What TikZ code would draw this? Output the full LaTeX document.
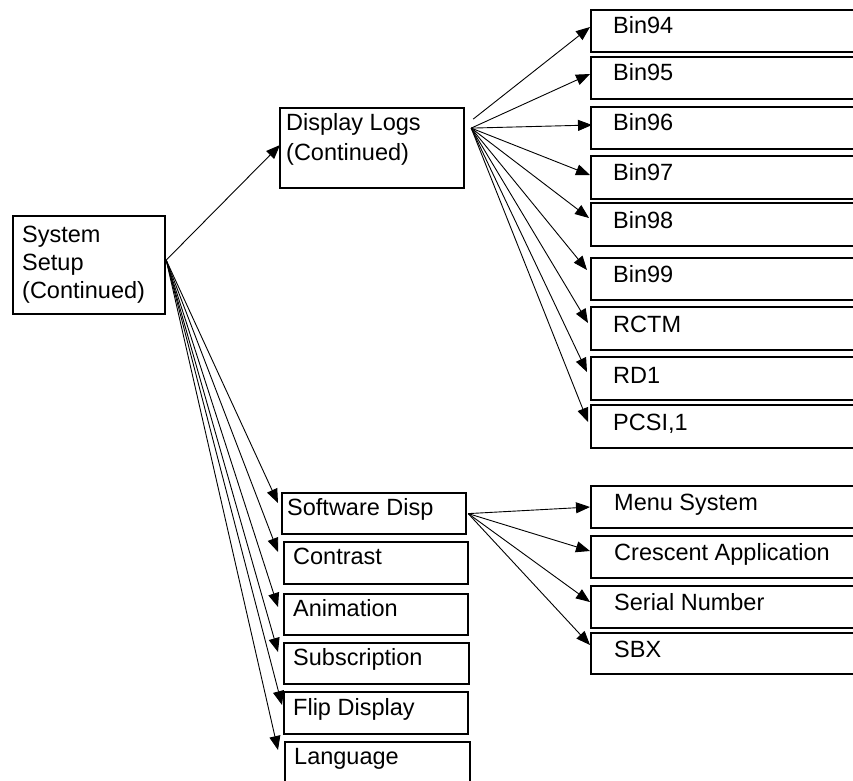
\documentclass[tikz,border=0pt]{standalone}
\usepackage{fontspec}
\setmainfont{Liberation Sans}
\usetikzlibrary{arrows.meta}
\begin{document}
\begin{tikzpicture}[x=1pt,y=-1pt,
  box/.style={draw, line width=2.2pt, anchor=north west, inner sep=0pt},
  lbl/.style={anchor=base west, inner sep=0pt, font=\fontsize{23.5}{28}\selectfont},
  arr/.style={-{Triangle[length=14pt,width=11pt]}, line width=0.9pt}]
\useasboundingbox (0,0) rectangle (853,780);
\clip (0,0) rectangle (853,780);

% root
\node[box, minimum width=152, minimum height=98] (ss) at (12,215) {};
\node[lbl] (ss1) at (22,242) {System};
\node[lbl] (ss2) at (22,270) {Setup};
\node[lbl] (ss3) at (22,298) {(Continued)};

% display logs
\node[box, minimum width=184, minimum height=80] (dl) at (279,107) {};
\node[lbl] (dl1) at (286,130) {Display Logs};
\node[lbl] (dl2) at (286,160) {(Continued)};

% bins
\node[box, minimum width=300, minimum height=42] (b94) at (590,9) {};
\node[lbl] (t94) at (613,33) {Bin94};
\node[box, minimum width=300, minimum height=42] (b95) at (590,56) {};
\node[lbl] (t95) at (613,80) {Bin95};
\node[box, minimum width=300, minimum height=42] (b96) at (590,106) {};
\node[lbl] (t96) at (613,130) {Bin96};
\node[box, minimum width=300, minimum height=43] (b97) at (590,155) {};
\node[lbl] (t97) at (613,180) {Bin97};
\node[box, minimum width=300, minimum height=43] (b98) at (590,202) {};
\node[lbl] (t98) at (613,228) {Bin98};
\node[box, minimum width=300, minimum height=42] (b99) at (590,257) {};
\node[lbl] (t99) at (613,282) {Bin99};
\node[box, minimum width=300, minimum height=43] (rctm) at (590,306) {};
\node[lbl] (trctm) at (613,332) {RCTM};
\node[box, minimum width=300, minimum height=43] (rd1) at (590,356) {};
\node[lbl] (trd1) at (613,383) {RD1};
\node[box, minimum width=300, minimum height=43] (pcsi) at (590,404) {};
\node[lbl] (tpcsi) at (613,430) {PCSI,1};

% lower left column
\node[box, minimum width=184, minimum height=41] (sd) at (281,492) {};
\node[lbl] (tsd) at (287,515) {Software Disp};
\node[box, minimum width=184, minimum height=42] (ct) at (283,541) {};
\node[lbl] (tct) at (293,564) {Contrast};
\node[box, minimum width=184, minimum height=41] (an) at (283,593) {};
\node[lbl] (tan) at (293,616) {Animation};
\node[box, minimum width=185, minimum height=41] (sb) at (283,642) {};
\node[lbl] (tsb) at (293,665) {Subscription};
\node[box, minimum width=184, minimum height=42] (fd) at (283,691) {};
\node[lbl] (tfd) at (293,715) {Flip Display};
\node[box, minimum width=185, minimum height=50] (lg) at (284,741) {};
\node[lbl] (tlg) at (294,764) {Language};

% software sub
\node[box, minimum width=300, minimum height=42] (ms) at (590,485) {};
\node[lbl] (tms) at (614,510) {Menu System};
\node[box, minimum width=300, minimum height=42] (ca) at (590,535) {};
\node[lbl] (tca) at (614,560) {Crescent Application};
\node[box, minimum width=300, minimum height=42] (sn) at (590,585) {};
\node[lbl] (tsn) at (614,610) {Serial Number};
\node[box, minimum width=300, minimum height=41] (sbx) at (590,632) {};
\node[lbl] (tsbx) at (614,657) {SBX};

% origins
\coordinate (ssO) at ([yshift=5pt]ss.east);
\coordinate (dlO) at ([xshift=6pt,yshift=20pt]dl.east);
\coordinate (dlO2) at ([xshift=8pt,yshift=29pt]dl.east);
\coordinate (sdO) at ([xshift=1pt]sd.east);

% arrows from root
\draw[arr] (ssO) -- ([xshift=1pt,yshift=-38pt]dl.north west);
\draw[arr] (ssO) -- ([xshift=-3pt,yshift=-11pt]sd.north west);
\draw[arr] (ssO) -- ([xshift=-5pt,yshift=-11pt]ct.north west);
\draw[arr] (ssO) -- ([xshift=-5pt,yshift=-14pt]an.north west);
\draw[arr] (ssO) -- ([xshift=-5pt,yshift=-10pt]sb.north west);
\draw[arr] (ssO) -- ([xshift=-1pt,yshift=-14pt]fd.north west);
\draw[arr] (ssO) -- ([xshift=-6pt,yshift=-9pt]lg.north west);

% arrows from display logs
\draw[arr] (dlO2) -- ([yshift=-18pt]b94.north west);
\draw[arr] (dlO) -- ([yshift=-18pt]b95.north west);
\draw[arr] (dlO) -- ([xshift=2pt,yshift=-19pt]b96.north west);
\draw[arr] (dlO) -- ([yshift=-20pt]b97.north west);
\draw[arr] (dlO) -- ([xshift=-1pt,yshift=-16pt]b98.north west);
\draw[arr] (dlO) -- ([xshift=-3pt,yshift=-13pt]b99.north west);
\draw[arr] (dlO) -- ([xshift=-2pt,yshift=-17pt]rctm.north west);
\draw[arr] (dlO) -- ([xshift=-3pt,yshift=-16pt]rd1.north west);
\draw[arr] (dlO) -- ([xshift=-2pt,yshift=-18pt]pcsi.north west);

% arrows from software disp
\draw[arr] (sdO) -- ([yshift=-22pt]ms.north west);
\draw[arr] (sdO) -- ([yshift=-16pt]ca.north west);
\draw[arr] (sdO) -- ([yshift=-17pt]sn.north west);
\draw[arr] (sdO) -- ([yshift=-13pt]sbx.north west);
\end{tikzpicture}
\end{document}
